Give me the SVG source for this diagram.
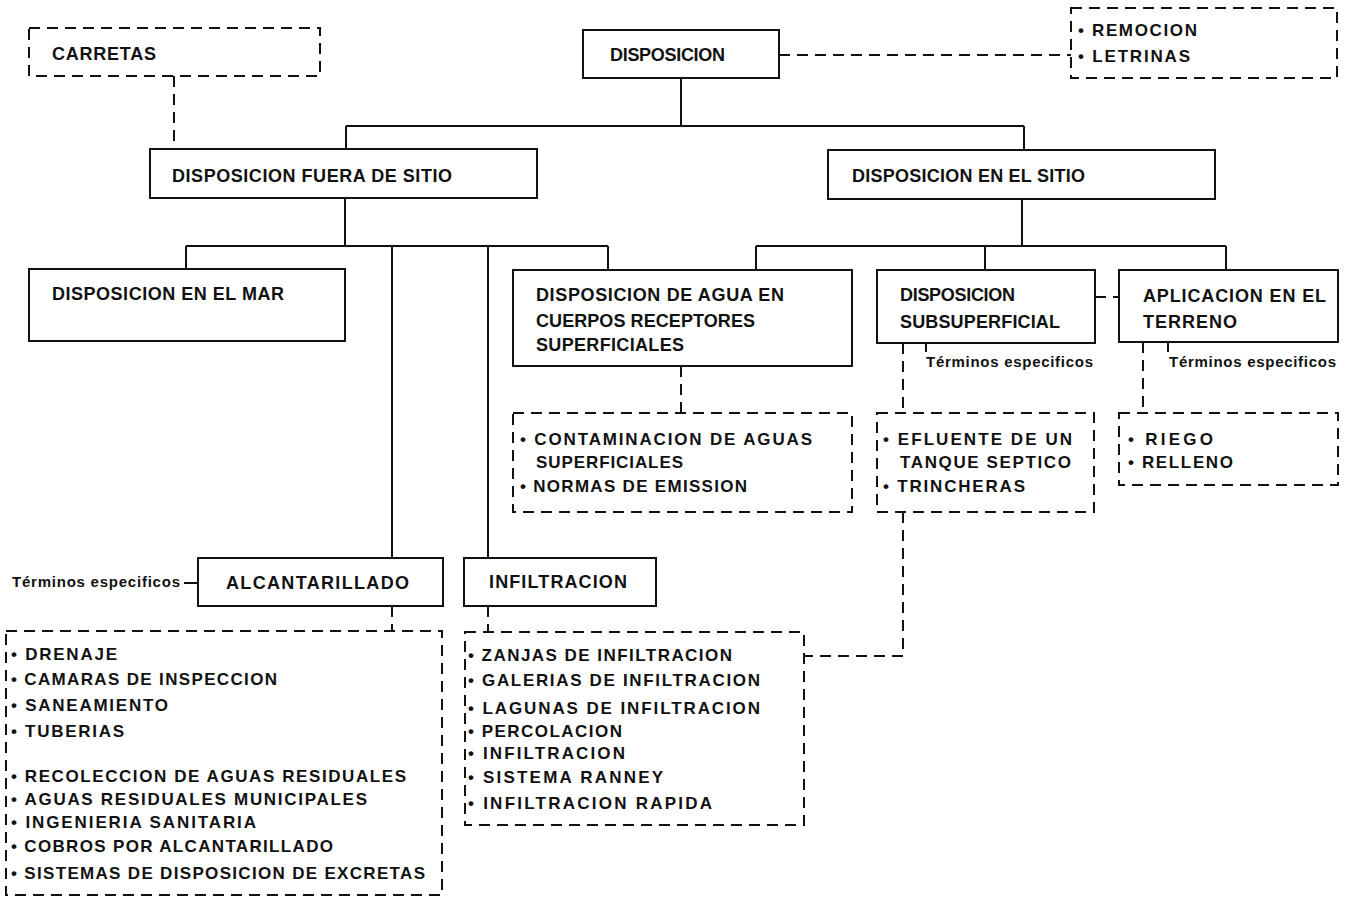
<svg xmlns="http://www.w3.org/2000/svg" width="1346" height="897" viewBox="0 0 1346 897">
<style>
  .box{fill:#fff;stroke:#111;stroke-width:2}
  .dbox{fill:none;stroke:#111;stroke-width:2;stroke-dasharray:11 7}
  .ln{fill:none;stroke:#111;stroke-width:2}
  .dl{fill:none;stroke:#111;stroke-width:2;stroke-dasharray:11 7}
  text{font-family:"Liberation Sans",Arial,sans-serif;font-weight:bold;fill:#111;font-size:18px}
  .li{font-size:17px}
  .sm{font-size:15px}
</style>
<rect width="1346" height="897" fill="#fff"/>
<g id="connectors">
  <path class="ln" d="M681,78V126M346,126H1024M346,126V149M1024,126V150"/>
  <path class="ln" d="M345,198V246M186,246H608M186,246V269M608,246V270M392,246V558M488,246V558"/>
  <path class="ln" d="M1022,199V246M756,246H1226M756,246V270M985,246V270M1226,246V270"/>
  <path class="ln" d="M926,343V352M1168,342V352M184,583H198"/>
  <path class="dl" d="M174,76V149"/>
  <path class="dl" d="M779,55H1071"/>
  <path class="dl" d="M681,366V413"/>
  <path class="dl" d="M903,343V413"/>
  <path class="dl" d="M1143,342V413"/>
  <path class="dl" d="M1095,297H1119"/>
  <path class="dl" d="M392,606V631"/>
  <path class="dl" d="M488,606V632"/>
  <path class="dl" d="M903,512V656H804"/>
</g>
<g id="carretas">
  <rect class="dbox" x="29" y="28" width="291" height="48"/>
  <text x="52" y="60" textLength="104">CARRETAS</text>
</g>
<g id="disposicion">
  <rect class="box" x="583" y="30" width="196" height="48"/>
  <text x="610" y="61" textLength="115">DISPOSICION</text>
</g>
<g id="remocion">
  <rect class="dbox" x="1071" y="8" width="266" height="70"/>
  <text class="li" x="1078" y="36" textLength="119">• REMOCION</text>
  <text class="li" x="1078" y="62" textLength="112">• LETRINAS</text>
</g>
<g id="fuera-de-sitio">
  <rect class="box" x="150" y="149" width="387" height="49"/>
  <text x="172" y="182" textLength="280">DISPOSICION FUERA DE SITIO</text>
</g>
<g id="en-el-sitio">
  <rect class="box" x="828" y="150" width="387" height="49"/>
  <text x="852" y="182" textLength="233">DISPOSICION EN EL SITIO</text>
</g>
<g id="mar">
  <rect class="box" x="29" y="269" width="316" height="72"/>
  <text x="52" y="300" textLength="232">DISPOSICION EN EL MAR</text>
</g>
<g id="agua">
  <rect class="box" x="513" y="270" width="339" height="96"/>
  <text x="536" y="301" textLength="248">DISPOSICION DE AGUA EN</text>
  <text x="536" y="327" textLength="219">CUERPOS RECEPTORES</text>
  <text x="536" y="351" textLength="148">SUPERFICIALES</text>
</g>
<g id="contaminacion">
  <rect class="dbox" x="513" y="413" width="339" height="99"/>
  <text class="li" x="520" y="445" textLength="292">• CONTAMINACION DE AGUAS</text>
  <text class="li" x="536" y="468" textLength="147">SUPERFICIALES</text>
  <text class="li" x="520" y="492" textLength="227">• NORMAS DE EMISSION</text>
</g>
<g id="subsuperficial">
  <rect class="box" x="877" y="270" width="218" height="73"/>
  <text x="900" y="301" textLength="115">DISPOSICION</text>
  <text x="900" y="328" textLength="160">SUBSUPERFICIAL</text>
  <text class="sm" x="926" y="367" textLength="167">Términos especificos</text>
</g>
<g id="efluente">
  <rect class="dbox" x="877" y="413" width="217" height="99"/>
  <text class="li" x="883" y="445" textLength="189">• EFLUENTE DE UN</text>
  <text class="li" x="900" y="468" textLength="171">TANQUE SEPTICO</text>
  <text class="li" x="883" y="492" textLength="142">• TRINCHERAS</text>
</g>
<g id="aplicacion">
  <rect class="box" x="1119" y="270" width="219" height="72"/>
  <text x="1143" y="302" textLength="183">APLICACION EN EL</text>
  <text x="1143" y="328" textLength="94">TERRENO</text>
  <text class="sm" x="1169" y="367" textLength="167">Términos especificos</text>
</g>
<g id="riego">
  <rect class="dbox" x="1119" y="413" width="219" height="72"/>
  <text class="li" x="1128" y="445" textLength="85">• RIEGO</text>
  <text class="li" x="1128" y="468" textLength="105">• RELLENO</text>
</g>
<g id="alcantarillado">
  <rect class="box" x="198" y="558" width="245" height="48"/>
  <text x="226" y="589" textLength="183">ALCANTARILLADO</text>
  <text class="sm" x="12" y="587" textLength="168">Términos especificos</text>
</g>
<g id="alcantarillado-terminos">
  <rect class="dbox" x="6" y="631" width="436" height="264"/>
  <text class="li" x="11" y="660" textLength="106">• DRENAJE</text>
  <text class="li" x="11" y="685" textLength="266">• CAMARAS DE INSPECCION</text>
  <text class="li" x="11" y="711" textLength="157">• SANEAMIENTO</text>
  <text class="li" x="11" y="737" textLength="113">• TUBERIAS</text>
  <text class="li" x="11" y="782" textLength="395">• RECOLECCION DE AGUAS RESIDUALES</text>
  <text class="li" x="11" y="805" textLength="356">• AGUAS RESIDUALES MUNICIPALES</text>
  <text class="li" x="11" y="828" textLength="245">• INGENIERIA SANITARIA</text>
  <text class="li" x="11" y="852" textLength="322">• COBROS POR ALCANTARILLADO</text>
  <text class="li" x="11" y="879" textLength="414">• SISTEMAS DE DISPOSICION DE EXCRETAS</text>
</g>
<g id="infiltracion">
  <rect class="box" x="464" y="558" width="192" height="48"/>
  <text x="489" y="588" textLength="138">INFILTRACION</text>
</g>
<g id="infiltracion-terminos">
  <rect class="dbox" x="465" y="632" width="339" height="193"/>
  <text class="li" x="468" y="661" textLength="264">• ZANJAS DE INFILTRACION</text>
  <text class="li" x="468" y="686" textLength="292">• GALERIAS DE INFILTRACION</text>
  <text class="li" x="468" y="714" textLength="292">• LAGUNAS DE INFILTRACION</text>
  <text class="li" x="468" y="737" textLength="154">• PERCOLACION</text>
  <text class="li" x="468" y="759" textLength="157">• INFILTRACION</text>
  <text class="li" x="468" y="783" textLength="195">• SISTEMA RANNEY</text>
  <text class="li" x="468" y="809" textLength="244">• INFILTRACION RAPIDA</text>
</g>
</svg>
